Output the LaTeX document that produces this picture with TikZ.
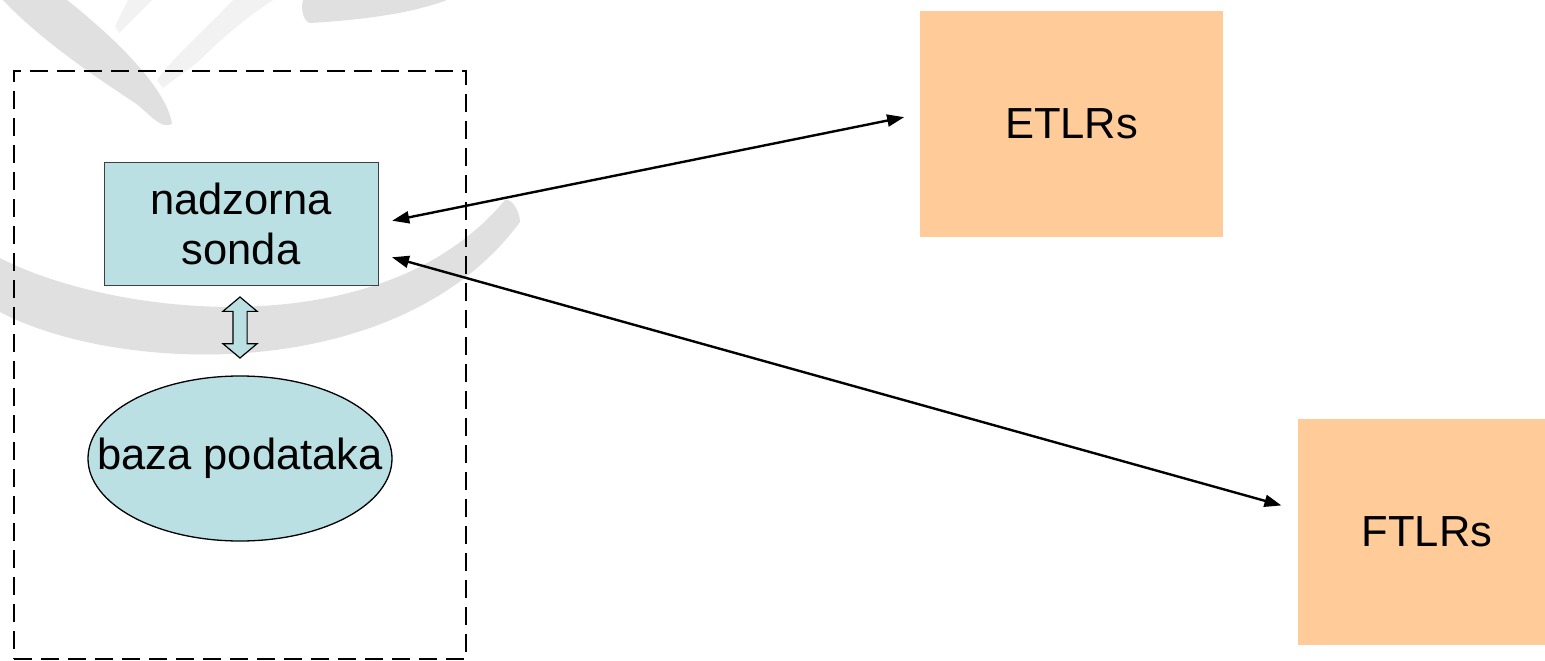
\documentclass[tikz,border=0pt]{standalone}
\usepackage{fontspec}
\setmainfont{Liberation Sans}
\usetikzlibrary{arrows.meta,shapes.geometric,shapes.arrows}

\definecolor{probe}{RGB}{186,224,227}
\definecolor{lsr}{RGB}{255,204,153}
\definecolor{swoosh}{RGB}{224,224,224}
\definecolor{swooshlight}{RGB}{242,242,242}

\tikzset{
  every node/.style={font=\fontsize{43.5}{50}\selectfont},
  hostbox/.style={rectangle, draw, line width=2.4pt, dash pattern=on 18pt off 9pt,
    minimum width=452pt, minimum height=588pt, inner sep=0pt},
  probebox/.style={rectangle, draw=black!75, line width=1pt, fill=probe,
    minimum width=274pt, minimum height=123pt, inner sep=0pt, align=center},
  dbase/.style={ellipse, draw, line width=1.3pt, fill=probe,
    minimum width=304pt, minimum height=165pt, inner sep=0pt},
  blockarrow/.style={double arrow, draw, line width=1.2pt, fill=probe, rotate=90,
    minimum height=61pt, minimum width=33pt, double arrow head extend=10pt,
    double arrow tip angle=100, inner sep=6.5pt},
  unit/.style={rectangle, fill=lsr, minimum width=303pt, minimum height=226pt,
    inner sep=0pt}
}

\begin{document}
\begin{tikzpicture}[x=1pt,y=-1pt
  ,>={Triangle[length=17pt,width=12pt]}]
  \useasboundingbox (0,0) rectangle (1545,661);

  % grey swooshes behind everything
  \fill[swooshlight] (128,0) -- (152,0) -- (119,33) -- (115,26) -- cycle;
  \fill[swooshlight] (233,0) .. controls (210,25) and (175,55) .. (157,80)
    -- (163,88) .. controls (180,75) and (195,65) .. (200,60)
    .. controls (230,30) and (255,12) .. (273,0) -- cycle;
  \fill[swoosh] (3,0) .. controls (40,40) and (100,80) .. (135,103)
    .. controls (148,112) and (160,130) .. (172,124)
    .. controls (168,95) and (130,50) .. (67,0) -- cycle;
  \fill[swoosh] (303,0) .. controls (300,12) and (305,22) .. (310,23)
    .. controls (360,20) and (410,14) .. (447,0) -- cycle;
  \fill[swoosh] (0,258) .. controls (110,315) and (380,350) .. (505,200)
    .. controls (512,198) and (520,212) .. (520,222)
    .. controls (400,385) and (120,375) .. (0,312) -- cycle;

  % monitoring host
  \node[hostbox] (host) at (240,365) {};
  \node[probebox] (sonda) at (241,223.5) {nadzorna\\sonda};
  \node[dbase, label={center:baza podataka}] (baza) at (240,458.5) {};
  \node[blockarrow] (link) at (240,327.5) {};

  % remote units
  \node[unit] (etlr) at (1071.5,124) {ETLRs};
  \node[unit, minimum width=258pt] (ftlr) at (1427,532) {FTLRs};

  \path[<->, line width=2.4pt, shorten <=14pt, shorten >=16pt]
  (sonda.east) edge ([yshift=10pt]etlr.west)
  ([yshift=-30pt]sonda.east) edge [shorten >=17pt] ([yshift=22pt]ftlr.west)
  ;

\end{tikzpicture}
\end{document}
